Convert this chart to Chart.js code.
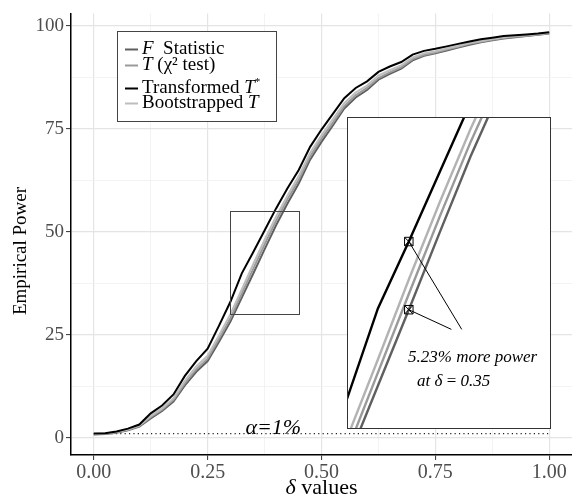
<!DOCTYPE html>
<html>
<head>
<meta charset="utf-8">
<script src="https://cdn.jsdelivr.net/npm/chart.js@4.4.1/dist/chart.umd.min.js"></script>
<style>
html, body { margin: 0; padding: 0; background: #fff; }
#wrap { position: relative; width: 572px; height: 498px; }
#main { position: absolute; left: 0; top: 0; }
#inset { position: absolute; left: 347px; top: 117px; background: #fff; }
</style>
</head>
<body>
<div id="wrap">
<canvas id="main" width="572" height="498"></canvas>
<canvas id="inset" width="204" height="312"></canvas>
</div>
<script>
// delta grid used in the simulation
var deltas = [0, 0.025, 0.05, 0.075, 0.1, 0.125, 0.15, 0.175, 0.2, 0.225, 0.25, 0.275, 0.3, 0.325, 0.35, 0.375, 0.4,
  0.425, 0.45, 0.475, 0.5, 0.525, 0.55, 0.575, 0.6, 0.625, 0.65, 0.675, 0.7, 0.725, 0.75, 0.775, 0.8, 0.825, 0.85,
  0.875, 0.9, 0.925, 0.95, 0.975, 1];

// empirical power (%) per test
var transformedT = [1.0, 1.1, 1.5, 2.2, 3.2, 5.9, 7.8, 10.5, 15.0, 18.6, 21.6, 27.2, 33.0, 39.9, 45.0, 50.3, 55.6,
  60.5, 65.0, 70.6, 74.8, 78.6, 82.4, 84.9, 86.5, 88.8, 90.1, 91.2, 93.0, 93.9, 94.4, 95.0, 95.6, 96.2, 96.7,
  97.1, 97.5, 97.7, 97.9, 98.1, 98.4];
var bootstrappedT = [0.9, 1.0, 1.4, 2.0, 3.0, 5.3, 7.1, 9.6, 13.8, 17.3, 19.9, 24.8, 30.0, 36.0, 42.1, 48.0, 53.6,
  58.7, 63.5, 69.1, 73.4, 77.3, 81.2, 83.8, 85.5, 87.9, 89.2, 90.4, 92.3, 93.3, 93.8, 94.5, 95.1, 95.8, 96.3,
  96.8, 97.2, 97.5, 97.7, 98.0, 98.3];
var chiSqT = [0.9, 1.0, 1.3, 1.9, 2.8, 5.0, 6.8, 9.2, 13.2, 16.6, 19.2, 24.0, 29.0, 35.0, 41.0, 46.9, 52.6,
  57.8, 62.6, 68.3, 72.6, 76.5, 80.5, 83.1, 84.9, 87.3, 88.7, 89.9, 91.9, 92.9, 93.5, 94.2, 94.9, 95.6, 96.1,
  96.6, 97.0, 97.3, 97.6, 97.9, 98.2];
var fStat = [0.8, 0.9, 1.2, 1.8, 2.7, 4.7, 6.5, 8.8, 12.7, 16.0, 18.6, 23.3, 28.2, 34.0, 39.8, 45.7, 51.5,
  56.8, 61.7, 67.5, 71.8, 75.8, 79.9, 82.6, 84.4, 86.9, 88.3, 89.6, 91.6, 92.7, 93.3, 94.0, 94.7, 95.4, 96.0,
  96.5, 96.9, 97.2, 97.5, 97.8, 98.1];

var xTicks = [0, 0.125, 0.25, 0.375, 0.5, 0.625, 0.75, 0.875, 1];
var yTicks = [0, 12.5, 25, 37.5, 50, 62.5, 75, 87.5, 100];

var alphaLevel = 1;             // nominal size, %
var zoomDelta = [0.30, 0.45];   // region shown in the inset
var zoomPower = [30, 55];
var markDelta = 0.35;           // where the power gain is marked
var calloutEnds = [[0.3928, 38.3], [0.3844, 38.3]];

var serif = '"Liberation Serif", "Times New Roman", serif';

function pts(arr) {
  return deltas.map(function (d, i) { return { x: d, y: arr[i] }; });
}
function isMajor(v, step) {
  return Math.abs(v / step - Math.round(v / step)) < 1e-9;
}
// draw a run of text pieces with different fonts
function textRun(c, x, y, parts, measureOnly) {
  var w = 0;
  parts.forEach(function (p) {
    c.font = p[1];
    if (!measureOnly) c.fillText(p[0], x + w, y + (p[2] || 0));
    w += c.measureText(p[0]).width;
  });
  return w;
}

var lineStyle = function (label, data, colour, width) {
  return { label: label, data: pts(data), borderColor: colour, backgroundColor: colour, borderWidth: width,
    pointRadius: 0, tension: 0, fill: false };
};

var legendRows = [
  { colour: '#5f5f5f', y: 49, parts: [['F', 'italic 19px ' + serif], ['  Statistic', '19px ' + serif]] },
  { colour: '#9a9a9a', y: 65, parts: [['T', 'italic 19px ' + serif], [' (\u03C7\u00B2 test)', '19px ' + serif]] },
  { colour: '#000000', y: 88, parts: [['Transformed ', '19px ' + serif], ['T', 'italic 19px ' + serif], ['*', '11px ' + serif, -6]] },
  { colour: '#bdbdbd', y: 103, parts: [['Bootstrapped ', '19px ' + serif], ['T', 'italic 19px ' + serif]] }
];

var decor = {
  id: 'decor',
  afterDatasetsDraw: function (chart) {
    var c = chart.ctx, xs = chart.scales.x, ys = chart.scales.y;
    c.save();
    // zoom rectangle
    var x0 = Math.round(xs.getPixelForValue(zoomDelta[0])) + 0.5;
    var x1 = Math.round(xs.getPixelForValue(zoomDelta[1])) + 0.5;
    var y0 = Math.round(ys.getPixelForValue(zoomPower[1])) + 0.5;
    var y1 = Math.round(ys.getPixelForValue(zoomPower[0])) + 0.5;
    c.strokeStyle = '#444';
    c.lineWidth = 1;
    c.strokeRect(x0, y0, x1 - x0, y1 - y0);
    // alpha label
    c.fillStyle = '#000';
    c.textBaseline = 'middle';
    c.font = 'italic 22px ' + serif;
    c.fillText('\u03B1=1%', xs.getPixelForValue(0.333), ys.getPixelForValue(2.4));
    c.restore();
  },
  afterDraw: function (chart) {
    var c = chart.ctx, a = chart.chartArea;
    c.save();
    // legend
    c.fillStyle = '#fff';
    c.fillRect(117, 31, 159, 90);
    c.strokeStyle = '#444';
    c.lineWidth = 1;
    c.strokeRect(117.5, 31.5, 159, 90);
    c.textBaseline = 'middle';
    legendRows.forEach(function (r) {
      c.strokeStyle = r.colour;
      c.lineWidth = 2;
      c.beginPath();
      c.moveTo(125, r.y + 0.5);
      c.lineTo(138, r.y + 0.5);
      c.stroke();
      c.fillStyle = '#000';
      textRun(c, 142, r.y, r.parts);
    });
    // axis titles
    c.fillStyle = '#000';
    var xt = [['\u03B4', 'italic 22px ' + serif], [' values', '22px ' + serif]];
    var w = textRun(c, 0, 0, xt, true);
    textRun(c, (a.left + a.right) / 2 - w / 2, 488, xt);
    c.translate(21, 251);
    c.rotate(-Math.PI / 2);
    c.textAlign = 'center';
    c.font = '19px ' + serif;
    c.fillText('Empirical Power', 0, 0);
    c.restore();
  }
};

var gridOpts = function (step) {
  return {
    color: function (ctx) { return ctx.tick && isMajor(ctx.tick.value, step) ? '#e4e4e4' : '#f0f0f0'; },
    lineWidth: function (ctx) { return ctx.tick && isMajor(ctx.tick.value, step) ? 1.2 : 0.8; },
    tickColor: function (ctx) { return ctx.tick && isMajor(ctx.tick.value, step) ? '#333' : 'rgba(0,0,0,0)'; },
    tickLength: 5,
    tickWidth: 1
  };
};

new Chart(document.getElementById('main'), {
  type: 'line',
  data: {
    datasets: [
      lineStyle('Transformed T*', transformedT, '#000000', 2),
      lineStyle('Bootstrapped T', bootstrappedT, '#bdbdbd', 2),
      lineStyle('T (chi2 test)', chiSqT, '#9a9a9a', 2),
      lineStyle('F Statistic', fStat, '#5f5f5f', 2),
      { label: 'alpha', data: [{ x: 0, y: alphaLevel }, { x: 1, y: alphaLevel }], borderColor: '#222',
        borderWidth: 1.2, borderDash: [1.2, 3.2], pointRadius: 0 }
    ]
  },
  options: {
    responsive: false,
    animation: false,
    devicePixelRatio: 1,
    layout: { autoPadding: false, padding: { top: 9, right: 0, left: 0, bottom: 0 } },
    plugins: { legend: { display: false }, tooltip: { enabled: false } },
    scales: {
      x: {
        type: 'linear', min: -0.05, max: 1.05,
        afterBuildTicks: function (s) { s.ticks = xTicks.map(function (v) { return { value: v }; }); },
        afterFit: function (s) { s.height = 43; },
        ticks: {
          autoSkip: false, maxRotation: 0, padding: 1, color: '#4d4d4d',
          font: { family: serif, size: 20 },
          callback: function (v) { return isMajor(v, 0.25) ? v.toFixed(2) : ''; }
        },
        grid: gridOpts(0.25),
        border: { color: '#000', width: 1.5 }
      },
      y: {
        type: 'linear', min: -4.2, max: 103,
        afterBuildTicks: function (s) { s.ticks = yTicks.map(function (v) { return { value: v }; }); },
        afterFit: function (s) { s.width = 71; },
        ticks: {
          autoSkip: false, padding: 2, color: '#4d4d4d',
          font: { family: serif, size: 19 },
          callback: function (v) { return isMajor(v, 25) ? String(v) : ''; }
        },
        grid: gridOpts(25),
        border: { color: '#000', width: 1.5 }
      }
    }
  },
  plugins: [decor]
});

// inset: zoomed view around delta = 0.35
var insetDecor = {
  id: 'insetDecor',
  afterDraw: function (chart) {
    var c = chart.ctx;
    c.save();
    c.strokeStyle = '#333';
    c.lineWidth = 1;
    c.strokeRect(0.5, 0.5, chart.width - 1, chart.height - 1);
    c.fillStyle = '#000';
    c.textBaseline = 'middle';
    c.font = 'italic 17px ' + serif;
    c.fillText('5.23% more power', 61, 241);
    textRun(c, 70, 265, [['at ', 'italic 17px ' + serif], ['\u03B4', 'italic 17px ' + serif],
      [' = ', '17px ' + serif], ['0.35', 'italic 17px ' + serif]]);
    c.restore();
  }
};

var idx = deltas.indexOf(markDelta);
var markPts = [{ x: markDelta, y: transformedT[idx] }, { x: markDelta, y: fStat[idx] }];

new Chart(document.getElementById('inset'), {
  type: 'line',
  data: {
    datasets: [
      { data: [markPts[0], { x: calloutEnds[0][0], y: calloutEnds[0][1] }], borderColor: '#000', borderWidth: 1, pointRadius: 0 },
      { data: [markPts[1], { x: calloutEnds[1][0], y: calloutEnds[1][1] }], borderColor: '#000', borderWidth: 1, pointRadius: 0 },
      { data: markPts, showLine: false, pointStyle: 'crossRot', pointRadius: 6, borderColor: '#000', borderWidth: 1 },
      { data: markPts, showLine: false, pointStyle: 'rect', pointRadius: 6, borderColor: '#000',
        backgroundColor: 'rgba(0,0,0,0)', borderWidth: 1 },
      lineStyle('Transformed T*', transformedT, '#000000', 2.4),
      lineStyle('Bootstrapped T', bootstrappedT, '#b3b3b3', 2.4),
      lineStyle('T (chi2 test)', chiSqT, '#9a9a9a', 2.4),
      lineStyle('F Statistic', fStat, '#5f5f5f', 2.4)
    ]
  },
  options: {
    responsive: false,
    animation: false,
    devicePixelRatio: 1,
    layout: { autoPadding: false, padding: 0 },
    plugins: { legend: { display: false }, tooltip: { enabled: false } },
    scales: {
      x: { type: 'linear', min: 0.30, max: 0.465, display: false },
      y: { type: 'linear', min: 30.7, max: 54.5, display: false }
    }
  },
  plugins: [insetDecor]
});
</script>
</body>
</html>
